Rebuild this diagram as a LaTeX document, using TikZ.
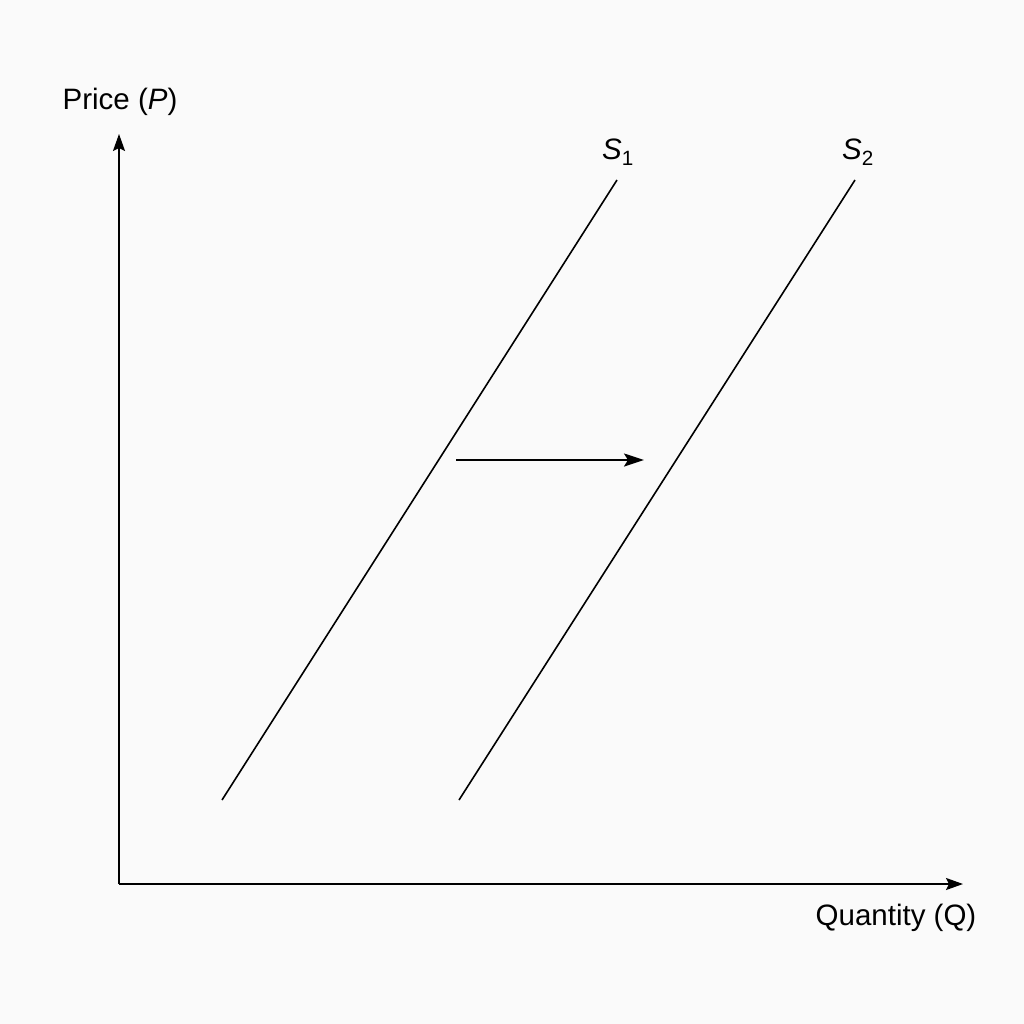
\documentclass[tikz,border=0pt]{standalone}
\usepackage{fontspec}
\setmainfont{Liberation Sans}
\usetikzlibrary{arrows.meta}
\begin{document}
\begin{tikzpicture}[x=1pt,y=-1pt,
  axis/.style={line width=2pt,-{Stealth[length=17pt,width=12pt,inset=3pt]}},
  curve/.style={line width=1.6pt},
  shift arrow/.style={line width=2pt,-{Stealth[length=20pt,width=13pt,inset=4pt]}},
  lbl/.style={font=\fontsize{29.5}{33}\selectfont,inner sep=0pt}]
\fill[black!2] (0,0) rectangle (1024,1024);
\useasboundingbox (0,0) rectangle (1024,1024);
\coordinate (O) at (119,884);
\coordinate (Ytop) at (119,134);
\coordinate (Xend) at (963,884);
\draw[axis] (O) -- (Ytop);
\draw[axis] (O) -- (Xend);
\node[lbl] (ylab) at (120,102) {Price (\textit{P})};
\node[lbl] (xlab) at (896,918) {Quantity (Q)};
\coordinate (s1a) at (222,800);
\coordinate (s1b) at (617,180);
\coordinate (s2a) at (459,800);
\coordinate (s2b) at (855,180);
\draw[curve] (s1a) -- (s1b);
\draw[curve] (s2a) -- (s2b);
\node[lbl] (S1) at (618,152) {\textit{S}\textsubscript{1}};
\node[lbl] (S2) at (858,152) {\textit{S}\textsubscript{2}};
\coordinate (ha) at (456,460);
\coordinate (hb) at (644,460);
\draw[shift arrow] (ha) -- (hb);
\end{tikzpicture}
\end{document}
